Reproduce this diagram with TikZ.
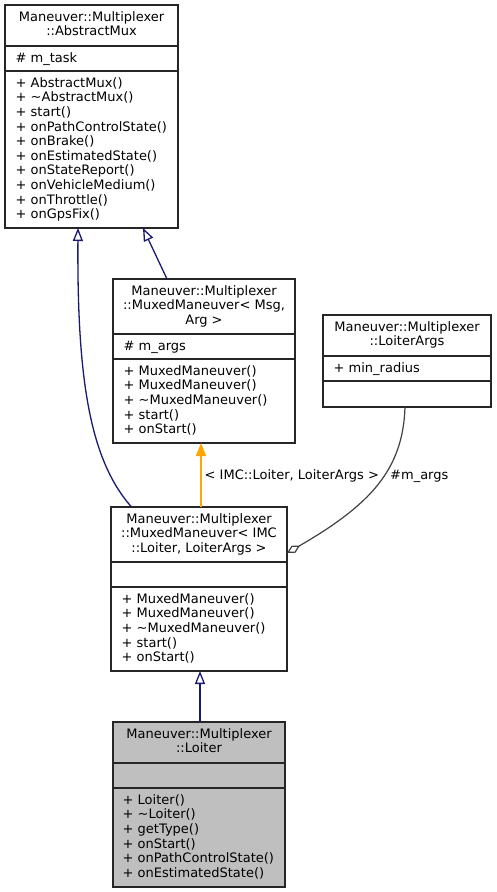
\documentclass[tikz,border=0pt]{standalone}
\usepackage{fontspec}
\setmainfont{DejaVu Sans}
\usetikzlibrary{arrows.meta}
\definecolor{navyedge}{HTML}{191970}
\definecolor{orangeedge}{HTML}{FFA500}
\definecolor{grayedge}{HTML}{404040}
\definecolor{hilite}{HTML}{BFBFBF}
\newcommand\memberlines[4]{\foreach \txt [count=\k] in {#4}{\node[member] (#1-\k) at (#2,{#3+(\k-1)*14.6}) {\txt};}}
\newcommand\titlelines[4]{\foreach \txt [count=\k] in {#4}{\node[titletext] (#1-\k) at (#2,{#3+(\k-1)*14.6}) {\txt};}}
\newcommand\sepline[2]{\draw[sepl] ([yshift=-#2]#1.north west) -- ([yshift=-#2]#1.north east);}
\begin{document}
\begin{tikzpicture}[x=1pt,y=-1pt,
  txt/.style={inner sep=0pt, font=\fontsize{13}{14.6}\selectfont},
  member/.style={txt, anchor=base west},
  titletext/.style={txt, anchor=base},
  classbox/.style={draw=black!85, line width=1.2pt, fill=white, anchor=north west, inner sep=0pt, outer sep=0pt},
  sepl/.style={draw=black!85, line width=1.2pt},
  inherit/.style={draw=navyedge, line width=1.3pt, -{Triangle[open, length=13pt, width=10pt]}},
  tmpl/.style={draw=orangeedge, line width=1.4pt, -{Triangle[length=13pt, width=10pt]}},
  aggr/.style={draw=grayedge, line width=1.2pt, -{Diamond[open, length=15pt, width=8pt]}},
  lbl/.style={txt, anchor=base west}
]
\useasboundingbox (0,0) rectangle (496,892);

% AbstractMux
\node[classbox, minimum width=173pt, minimum height=223pt] (am) at (5,5) {};
\sepline{am}{41pt}
\sepline{am}{66pt}
\titlelines{amt}{91.5}{21.3}{Maneuver::Multiplexer, ::AbstractMux}
\memberlines{ama}{15.5}{62.3}{\# m\_task}
\memberlines{amm}{15.5}{87.3}{+ AbstractMux(), + \textasciitilde AbstractMux(), + start(), + onPathControlState(), + onBrake(), + onEstimatedState(), + onStateReport(), + onVehicleMedium(), + onThrottle(), + onGpsFix()}

% MuxedManeuver< Msg, Arg >
\node[classbox, minimum width=182pt, minimum height=164pt] (mm) at (113,279) {};
\sepline{mm}{55pt}
\sepline{mm}{80pt}
\titlelines{mmt}{204}{295.3}{Maneuver::Multiplexer, {::MuxedManeuver< Msg,}, Arg >}
\memberlines{mma}{123.5}{350.3}{\# m\_args}
\memberlines{mmm}{123.5}{375.3}{+ MuxedManeuver(), + MuxedManeuver(), + \textasciitilde MuxedManeuver(), + start(), + onStart()}

% LoiterArgs
\node[classbox, minimum width=168pt, minimum height=92pt] (args) at (323,315) {};
\sepline{args}{41pt}
\sepline{args}{66pt}
\titlelines{argst}{407}{331.3}{Maneuver::Multiplexer, ::LoiterArgs}
\memberlines{argsa}{333.5}{372.3}{+ min\_radius}

% MuxedManeuver< IMC::Loiter, LoiterArgs >
\node[classbox, minimum width=176pt, minimum height=164pt] (mml) at (111,507) {};
\sepline{mml}{55pt}
\sepline{mml}{80pt}
\titlelines{mmlt}{199}{523.3}{Maneuver::Multiplexer, ::MuxedManeuver< IMC, {::Loiter, LoiterArgs >}}
\memberlines{mmlm}{121.5}{603.3}{+ MuxedManeuver(), + MuxedManeuver(), + \textasciitilde MuxedManeuver(), + start(), + onStart()}

% Loiter
\node[classbox, fill=hilite, minimum width=172pt, minimum height=165pt] (loiter) at (113,722) {};
\sepline{loiter}{41pt}
\sepline{loiter}{66pt}
\titlelines{loitert}{199}{738.3}{Maneuver::Multiplexer, ::Loiter}
\memberlines{loiterm}{122.5}{804.3}{+ Loiter(), + \textasciitilde Loiter(), + getType(), + onStart(), + onPathControlState(), + onEstimatedState()}

% edges
\draw[inherit] ([xshift=20.5pt]mml.north west) .. controls (90,460) and (77,380) .. ([xshift=73pt]am.south west);
\draw[inherit] ([xshift=54pt]mm.north west) -- ([xshift=138pt]am.south west);
\draw[tmpl] ([xshift=90pt]mml.north west) -- ([xshift=88pt]mm.south west);
\node[lbl] (tmpllbl) at (204.5,479) {< IMC::Loiter, LoiterArgs >};
\draw[aggr] ([xshift=82pt]args.south west) .. controls (403,470) and (370,505) .. ([yshift=-46pt]mml.north east);
\node[lbl] (aggrlbl) at (390,479) {\#m\_args};
\draw[inherit] ([xshift=87pt]loiter.north west) -- ([xshift=89pt]mml.south west);
\end{tikzpicture}
\end{document}
